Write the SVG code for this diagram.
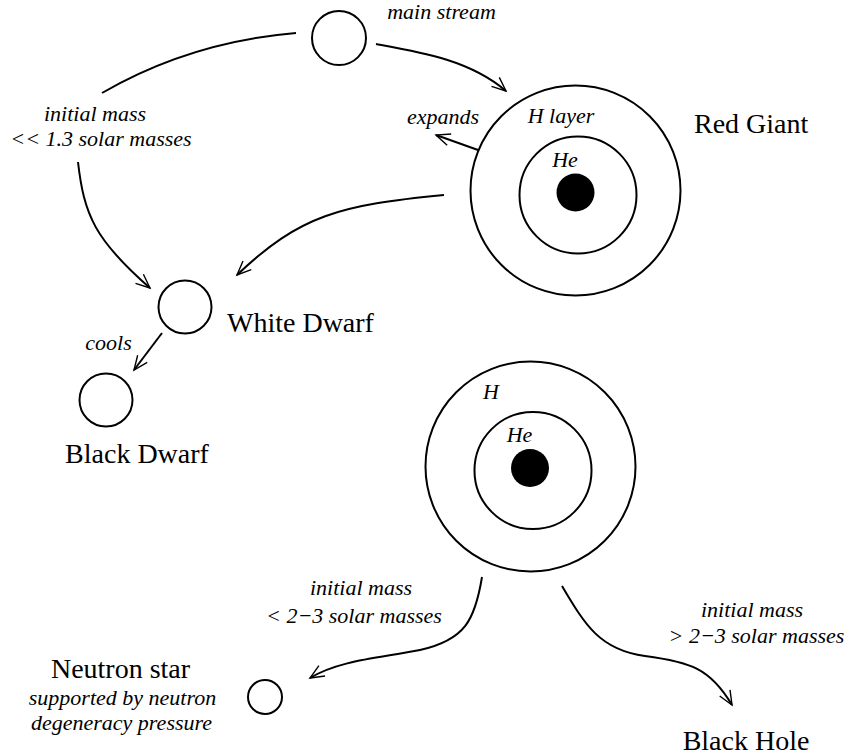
<svg xmlns="http://www.w3.org/2000/svg" width="848" height="756" viewBox="0 0 848 756">
<style>
.c{fill:none;stroke:#000;stroke-width:2}
.d{fill:#000;stroke:none}
.l{fill:none;stroke:#000;stroke-width:2}
.i{font-family:"Liberation Serif","Times New Roman",serif;font-style:italic;font-size:22px;fill:#000;text-anchor:middle}
.t{font-family:"Liberation Serif","Times New Roman",serif;font-size:28px;fill:#000}
</style>
<defs>
<marker id="ah" markerUnits="userSpaceOnUse" markerWidth="20" markerHeight="20" viewBox="-16 -10 20 20" refX="0" refY="0" orient="auto">
<path d="M-14,-6 L0,0 L-14,6" fill="none" stroke="#000" stroke-width="1.4"/>
</marker>
</defs>
<rect width="848" height="756" fill="#fff"/>
<g id="connectors">
<path class="l" d="M296,33 Q190,42 102,93"/>
<path class="l" d="M78,162 C84,215 95,240 150,288" marker-end="url(#ah)"/>
<path class="l" d="M376,44 C420,52 470,60 506,91" marker-end="url(#ah)"/>
<path class="l" d="M478,150 L436,135" marker-end="url(#ah)"/>
<path class="l" d="M444,195 C340,205 300,215 237,275" marker-end="url(#ah)"/>
<path class="l" d="M162,333 L134,370" marker-end="url(#ah)"/>
<path class="l" d="M482,577 C475,620 465,640 420,650 C380,658 340,660 310,678" marker-end="url(#ah)"/>
<path class="l" d="M562,586 C585,625 600,650 645,656 C690,662 710,668 732,705" marker-end="url(#ah)"/>
</g>
<g id="main-stream">
<circle class="c" cx="339" cy="38" r="27"/>
<text class="i" x="441.5" y="19">main stream</text>
</g>
<g id="low-mass-label">
<text class="i" x="95" y="121">initial mass</text>
<text class="i" x="101" y="146">&lt;&lt; 1.3 solar masses</text>
</g>
<g id="red-giant">
<circle class="c" cx="575.5" cy="190.5" r="105"/>
<circle class="c" cx="578" cy="195" r="58.5"/>
<circle class="d" cx="575.5" cy="192.5" r="19"/>
<text class="i" x="443" y="124">expands</text>
<text class="i" x="561" y="123">H layer</text>
<text class="i" x="565" y="167">He</text>
<text class="t" x="694" y="133">Red Giant</text>
</g>
<g id="white-dwarf">
<circle class="c" cx="185" cy="307" r="26.5"/>
<text class="t" x="227" y="332">White Dwarf</text>
<text class="i" x="108.5" y="350">cools</text>
</g>
<g id="black-dwarf">
<circle class="c" cx="106" cy="400" r="26.5"/>
<text class="t" x="137" y="463" text-anchor="middle">Black Dwarf</text>
</g>
<g id="massive-star">
<circle class="c" cx="530.5" cy="466.5" r="105"/>
<circle class="c" cx="533" cy="470.5" r="58.5"/>
<circle class="d" cx="530" cy="468" r="19"/>
<text class="i" x="483" y="399" style="text-anchor:start">H</text>
<text class="i" x="519.5" y="442">He</text>
</g>
<g id="neutron-label">
<text class="i" x="361" y="595">initial mass</text>
<text class="i" x="354" y="623">&lt; 2−3 solar masses</text>
</g>
<g id="black-hole-label">
<text class="i" x="752" y="617">initial mass</text>
<text class="i" x="756.5" y="643">&gt; 2−3 solar masses</text>
</g>
<g id="neutron-star">
<circle class="c" cx="265" cy="697" r="17"/>
<text class="t" x="120.5" y="678" text-anchor="middle">Neutron star</text>
<text class="i" x="122.5" y="705">supported by neutron</text>
<text class="i" x="121.5" y="730">degeneracy pressure</text>
</g>
<g id="black-hole">
<text class="t" x="746" y="750" text-anchor="middle">Black Hole</text>
</g>
</svg>
